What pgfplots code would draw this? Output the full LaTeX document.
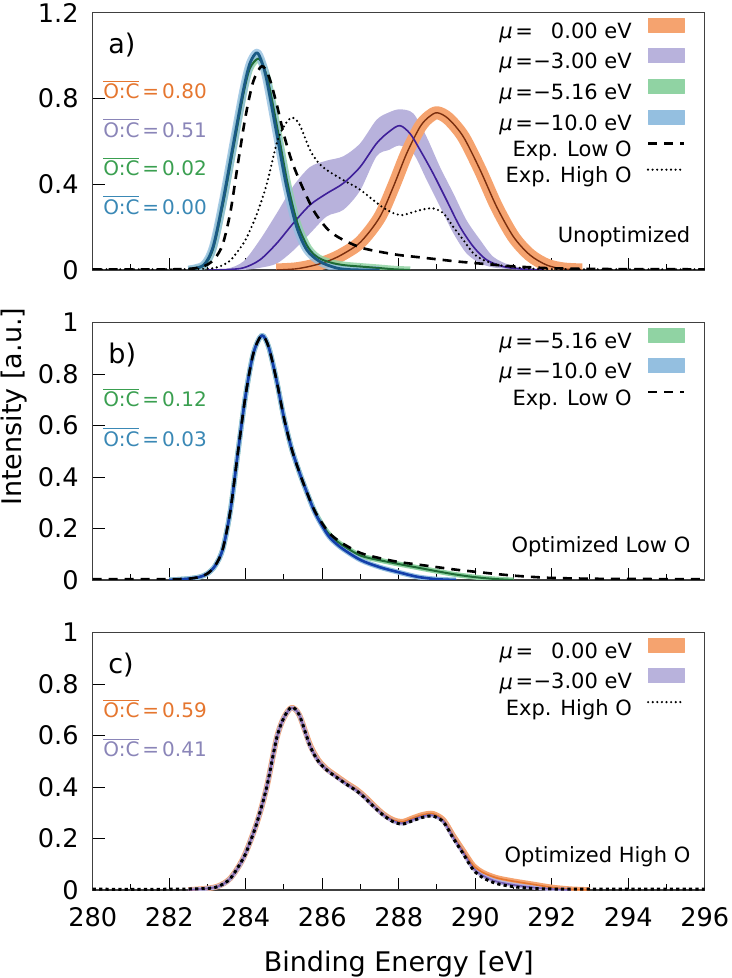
\documentclass[border=0pt]{standalone}
\usepackage{fontspec}
\setmainfont{DejaVu Sans}
\usepackage{pgfplots}
\usepackage{pgfplotstable}
\pgfplotsset{compat=1.18}
\usepgfplotslibrary{fillbetween}

\definecolor{orF}{HTML}{F5A36F}
\definecolor{orL}{HTML}{7A2E0E}
\definecolor{puF}{HTML}{B8B2DC}
\definecolor{puL}{HTML}{3E1F99}
\definecolor{grF}{HTML}{90D3A3}
\definecolor{grL}{HTML}{1E6B35}
\definecolor{blF}{HTML}{94BFE0}
\definecolor{blL}{HTML}{1B5A85}
\definecolor{orT}{HTML}{E5762F}
\definecolor{puT}{HTML}{8A85B8}
\definecolor{grT}{HTML}{3A9F50}
\definecolor{blT}{HTML}{3A88B5}

\newcommand\ticksfont{\fontsize{12.8}{15}\selectfont}
\newcommand\legfont{\fontsize{10.5}{13}\selectfont}
\newcommand\ocfont{\fontsize{10}{12}\selectfont}
\newcommand\panfont{\fontsize{13.5}{16}\selectfont}
\newcommand\labfont{\fontsize{13.5}{16}\selectfont}
\newcommand\OC{$\overline{\mbox{O:C}}$\hspace{0.15em}=\hspace{0.15em}}
\newcommand\mue{\textit{μ}\kern0.12em=\kern0.02em}

% Exp. Low O
\pgfplotstableread{
x y
280.0 0.003
281.0 0.003
282.0 0.003
282.5 0.005
282.8 0.012
283.0 0.025
283.2 0.055
283.4 0.12
283.6 0.27
283.8 0.50
284.0 0.72
284.2 0.88
284.42 0.95
284.6 0.905
284.8 0.78
285.0 0.63
285.2 0.51
285.4 0.42
285.6 0.34
285.8 0.27
286.0 0.22
286.2 0.18
286.5 0.145
287.0 0.105
287.5 0.085
288.0 0.07
288.5 0.06
289.0 0.05
289.5 0.04
290.0 0.032
290.5 0.024
291.0 0.017
291.5 0.012
292.0 0.008
293.0 0.005
294.0 0.004
296.0 0.003
}\explow

% Exp. High O
\pgfplotstableread{
x y
280.0 0.003
282.0 0.003
283.0 0.006
283.3 0.015
283.6 0.045
283.94 0.124
284.1 0.18
284.29 0.26
284.55 0.40
284.81 0.59
285.0 0.67
285.2 0.71
285.4 0.68
285.68 0.56
285.9 0.50
286.12 0.466
286.4 0.435
286.64 0.41
286.9 0.385
287.1 0.36
287.34 0.325
287.6 0.29
287.86 0.265
288.1 0.256
288.38 0.27
288.65 0.283
288.9 0.287
289.17 0.264
289.43 0.2
289.69 0.14
289.95 0.078
290.21 0.047
290.56 0.025
291.0 0.013
291.5 0.006
292.0 0.004
293.0 0.003
296.0 0.003
}\exphigh

% panel a, mu = 0
\pgfplotstableread{
x y
284.8 0
285.3 0.005
285.7 0.018
286.1 0.038
286.5 0.07
287.0 0.13
287.5 0.245
287.86 0.388
288.21 0.544
288.56 0.668
288.8 0.715
289.01 0.733
289.3 0.705
289.69 0.621
290.13 0.466
290.56 0.295
291.0 0.155
291.43 0.07
291.87 0.023
292.3 0.005
292.8 0
}\ora

% panel a, mu = -3 (line)
\pgfplotstableread{
x y
283.0 0
283.5 0.002
283.94 0.01
284.37 0.047
284.81 0.124
285.24 0.217
285.68 0.303
286.12 0.357
286.55 0.404
286.99 0.48
287.42 0.59
287.75 0.645
288.03 0.673
288.3 0.635
288.56 0.559
288.9 0.45
289.25 0.326
289.6 0.202
289.95 0.109
290.3 0.047
290.73 0.016
291.17 0.005
291.8 0
}\pua

% panel a, mu = -3 (band)
\pgfplotstableread{
x u l
283.0 0 0
283.5 0.005 0
283.94 0.04 0.0
284.37 0.14 0.01
284.81 0.264 0.03
285.24 0.39 0.09
285.68 0.48 0.17
286.12 0.51 0.25
286.55 0.53 0.28
286.99 0.59 0.37
287.42 0.70 0.53
287.75 0.735 0.56
288.03 0.749 0.58
288.38 0.73 0.544
288.73 0.62 0.42
289.08 0.48 0.295
289.43 0.357 0.171
289.77 0.233 0.078
290.13 0.14 0.031
290.47 0.062 0.012
290.9 0.023 0.004
291.4 0.006 0
291.9 0 0
}\puband

% panel a, mu = -5.16
\pgfplotstableread{
x y
282.5 0.002
282.9 0.02
283.15 0.10
283.41 0.31
283.68 0.57
283.94 0.82
284.11 0.94
284.32 0.985
284.45 0.955
284.6 0.87
284.85 0.64
285.1 0.40
285.35 0.22
285.6 0.115
285.8 0.07
286.0 0.048
286.3 0.031
286.6 0.022
287.0 0.016
287.5 0.009
287.9 0.003
288.3 0
}\gra

% panel a, mu = -10
\pgfplotstableread{
x y
282.5 0.002
282.9 0.023
283.15 0.11
283.41 0.326
283.68 0.59
283.94 0.839
284.11 0.963
284.29 1.013
284.42 0.97
284.55 0.885
284.81 0.637
285.07 0.388
285.33 0.202
285.6 0.093
285.94 0.039
286.38 0.009
286.8 0.001
287.5 0
}\bla

% panel b, mu = -5.16
\pgfplotstableread{
x y
282.0 0
282.5 0.005
282.8 0.012
283.0 0.025
283.2 0.055
283.4 0.12
283.6 0.27
283.8 0.50
284.0 0.72
284.2 0.88
284.42 0.95
284.6 0.905
284.8 0.78
285.0 0.63
285.2 0.51
285.4 0.42
285.6 0.34
285.8 0.268
286.0 0.215
286.2 0.175
286.5 0.138
287.0 0.095
287.5 0.077
288.0 0.062
288.5 0.048
289.0 0.034
289.5 0.021
290.0 0.011
290.5 0.004
291.0 0
}\grb

% panel b, mu = -10
\pgfplotstableread{
x y
282.0 0
282.5 0.005
282.8 0.012
283.0 0.025
283.2 0.055
283.4 0.12
283.6 0.27
283.8 0.50
284.0 0.72
284.2 0.88
284.42 0.95
284.6 0.905
284.8 0.78
285.0 0.63
285.2 0.51
285.4 0.42
285.6 0.34
285.8 0.265
286.0 0.21
286.2 0.165
286.5 0.125
287.0 0.078
287.5 0.05
288.0 0.03
288.5 0.012
289.0 0.003
289.5 0
}\blb

% panel c, mu = 0
\pgfplotstableread{
x y
282.5 0
283.0 0.006
283.3 0.016
283.6 0.046
283.94 0.125
284.29 0.26
284.55 0.40
284.81 0.59
285.0 0.67
285.2 0.708
285.4 0.68
285.68 0.565
285.9 0.505
286.12 0.47
286.4 0.44
286.64 0.415
286.9 0.39
287.1 0.365
287.34 0.33
287.6 0.295
287.86 0.272
288.1 0.265
288.38 0.28
288.65 0.293
288.9 0.296
289.17 0.272
289.43 0.21
289.69 0.152
289.95 0.095
290.21 0.067
290.56 0.047
291.0 0.034
291.5 0.022
292.0 0.01
292.5 0.003
293.0 0
}\orc

% panel c, mu = -3
\pgfplotstableread{
x y
282.5 0
283.0 0.006
283.3 0.015
283.6 0.045
283.94 0.124
284.29 0.26
284.55 0.40
284.81 0.59
285.0 0.67
285.2 0.707
285.4 0.68
285.68 0.562
285.9 0.502
286.12 0.468
286.4 0.437
286.64 0.412
286.9 0.387
287.1 0.362
287.34 0.327
287.6 0.292
287.86 0.268
288.1 0.259
288.38 0.274
288.65 0.287
288.9 0.29
289.17 0.267
289.43 0.204
289.69 0.145
289.95 0.085
290.21 0.055
290.56 0.033
291.0 0.02
291.5 0.01
292.0 0.004
292.5 0
}\puc

\pgfplotsset{
  panel/.style={
    scale only axis, width=306pt, height=128.7pt,
    anchor=south west,
    xmin=280, xmax=296, xtick={280,282,...,296}, minor x tick num=1,
    ymin=0,
    tick align=inside, xtick pos=left, ytick pos=left,
    major tick length=6pt, minor tick length=3pt,
    tick style={black, line width=0.5pt},
    axis line style={black!75, line width=0.6pt},
    tick label style={font=\ticksfont},
    /pgf/number format/assume math mode=true,
    yticklabel style={xshift=-3.5pt},
    xticklabel style={yshift=-5.2pt},
    legend cell align=right, legend plot pos=right,
    legend style={draw=none, fill=none, at={(1,1)}, anchor=north east,
      xshift=-9.5pt, yshift=-2.4pt, inner sep=0pt, font=\legfont,
      row sep=2.6pt, column sep=7.5pt,
      nodes={inner sep=0pt, text height=8pt, text depth=2.5pt}},
    legend image code/.code={\draw[#1] (0pt,3.8pt) -- (18pt,3.8pt);},
    every axis plot/.append style={line join=round},
  },
  explow/.style={black, line width=1.3pt, dash pattern=on 4.5pt off 3.5pt},
  exphigh/.style={black, line width=1.2pt, line cap=round, dash pattern=on 0pt off 2.3pt},
  exphighc/.style={black, line width=1.5pt, dash pattern=on 1.6pt off 1.6pt},
  swatch/.style={legend image code/.code={\fill[#1] (0pt,0.3pt) rectangle (18pt,7.3pt);}},
}

\begin{document}
\begin{tikzpicture}

% ---------------- panel a ----------------
\begin{axis}[panel, at={(0,310pt)}, ymax=1.2, ytick={0,0.4,0.8,1.2}, xticklabels={}]
\addplot[draw=none, name path=pu, forget plot, smooth] table[x=x,y=u] {\puband};
\addplot[draw=none, name path=pl, forget plot, smooth] table[x=x,y=l] {\puband};
\addplot[puF, forget plot] fill between[of=pu and pl];
\addplot[orF, line width=6.5pt, smooth, forget plot] table {\ora};
\addplot[grF, opacity=0.85, line width=3.5pt, smooth, forget plot] table {\gra};
\addplot[blF, opacity=0.8, line width=4pt, smooth, forget plot] table {\bla};
\addplot[orL, line width=0.7pt, smooth, forget plot] table {\ora};
\addplot[puL, line width=0.8pt, smooth, forget plot] table {\pua};
\addplot[grL, line width=1pt, smooth, forget plot] table {\gra};
\addplot[blL, line width=1.4pt, smooth, forget plot] table {\bla};
\addplot[explow, smooth, forget plot] table {\explow};
\addplot[exphigh, smooth, forget plot] table {\exphigh};
\addlegendimage{swatch=orF}
\addlegendentry{\mue\phantom{−}0.00 eV}
\addlegendimage{swatch=puF}
\addlegendentry{\mue−3.00 eV}
\addlegendimage{swatch=grF}
\addlegendentry{\mue−5.16 eV}
\addlegendimage{swatch=blF}
\addlegendentry{\mue−10.0 eV}
\addlegendimage{explow}
\addlegendentry{Exp. Low O}
\addlegendimage{exphigh}
\addlegendentry{Exp. High O}
\node[anchor=base west, inner sep=0pt, font=\panfont, xshift=7.65pt, yshift=-20.4pt] at (rel axis cs:0,1) {a)};
\node[anchor=base west, inner sep=0pt, font=\ocfont, text=orT, xshift=5.15pt, yshift=-43.2pt] at (rel axis cs:0,1) {\OC 0.80};
\node[anchor=base west, inner sep=0pt, font=\ocfont, text=puT, xshift=5.15pt, yshift=-62.4pt] at (rel axis cs:0,1) {\OC 0.51};
\node[anchor=base west, inner sep=0pt, font=\ocfont, text=grT, xshift=5.15pt, yshift=-81.6pt] at (rel axis cs:0,1) {\OC 0.02};
\node[anchor=base west, inner sep=0pt, font=\ocfont, text=blT, xshift=5.15pt, yshift=-100.8pt] at (rel axis cs:0,1) {\OC 0.00};
\node[anchor=base east, inner sep=0pt, font=\legfont, xshift=-7pt, yshift=13.65pt] at (rel axis cs:1,0) {Unoptimized};
\end{axis}

% ---------------- panel b ----------------
\begin{axis}[panel, at={(0,155pt)}, ymax=1, ytick={0,0.2,0.4,0.6,0.8,1}, xticklabels={}]
\addplot[grF, line width=2.5pt, smooth, forget plot] table {\grb};
\addplot[blF, line width=2.5pt, smooth, forget plot] table {\blb};
\addplot[grL, line width=1pt, smooth, forget plot] table {\grb};
\addplot[blL!70!blue, line width=1.3pt, smooth, forget plot] table {\blb};
\addplot[explow, smooth, forget plot] table {\explow};
\addlegendimage{swatch=grF}
\addlegendentry{\mue−5.16 eV}
\addlegendimage{swatch=blF}
\addlegendentry{\mue−10.0 eV}
\addlegendimage{explow}
\addlegendentry{Exp. Low O}
\node[anchor=base west, inner sep=0pt, font=\panfont, xshift=7.65pt, yshift=-20.4pt] at (rel axis cs:0,1) {b)};
\node[anchor=base west, inner sep=0pt, font=\ocfont, text=grT, xshift=5.15pt, yshift=-42.2pt] at (rel axis cs:0,1) {\OC 0.12};
\node[anchor=base west, inner sep=0pt, font=\ocfont, text=blT, xshift=5.15pt, yshift=-61.9pt] at (rel axis cs:0,1) {\OC 0.03};
\node[anchor=base east, inner sep=0pt, font=\legfont, xshift=-7pt, yshift=13.65pt] at (rel axis cs:1,0) {Optimized Low O};
\end{axis}

% ---------------- panel c ----------------
\begin{axis}[panel, at={(0,0)}, ymax=1, ytick={0,0.2,0.4,0.6,0.8,1}]
\addplot[orF, line width=2.8pt, smooth, forget plot] table {\orc};
\addplot[puF, line width=2.2pt, smooth, forget plot] table {\puc};
\addplot[orT, line width=0.8pt, smooth, forget plot] table {\orc};
\addplot[puL!70!white, line width=0.8pt, smooth, forget plot] table {\puc};
\addplot[exphighc, smooth, forget plot] table {\exphigh};
\addlegendimage{swatch=orF}
\addlegendentry{\mue\phantom{−}0.00 eV}
\addlegendimage{swatch=puF}
\addlegendentry{\mue−3.00 eV}
\addlegendimage{exphigh}
\addlegendentry{Exp. High O}
\node[anchor=base west, inner sep=0pt, font=\panfont, xshift=7.65pt, yshift=-20.4pt] at (rel axis cs:0,1) {c)};
\node[anchor=base west, inner sep=0pt, font=\ocfont, text=orT, xshift=5.15pt, yshift=-42.7pt] at (rel axis cs:0,1) {\OC 0.59};
\node[anchor=base west, inner sep=0pt, font=\ocfont, text=puT, xshift=5.15pt, yshift=-62pt] at (rel axis cs:0,1) {\OC 0.41};
\node[anchor=base east, inner sep=0pt, font=\legfont, xshift=-7pt, yshift=13.65pt] at (rel axis cs:1,0) {Optimized High O};
\end{axis}

\node[anchor=base, font=\labfont, inner sep=0pt] at (153pt,-40.85pt) {Binding Energy [eV]};
\node[rotate=90, anchor=base, font=\labfont, inner sep=0pt] at (-35.5pt,241.65pt) {Intensity [a.u.]};
\pgfresetboundingbox
\useasboundingbox (-46.35pt,-44pt) rectangle (319.65pt,445pt);
\end{tikzpicture}
\end{document}
